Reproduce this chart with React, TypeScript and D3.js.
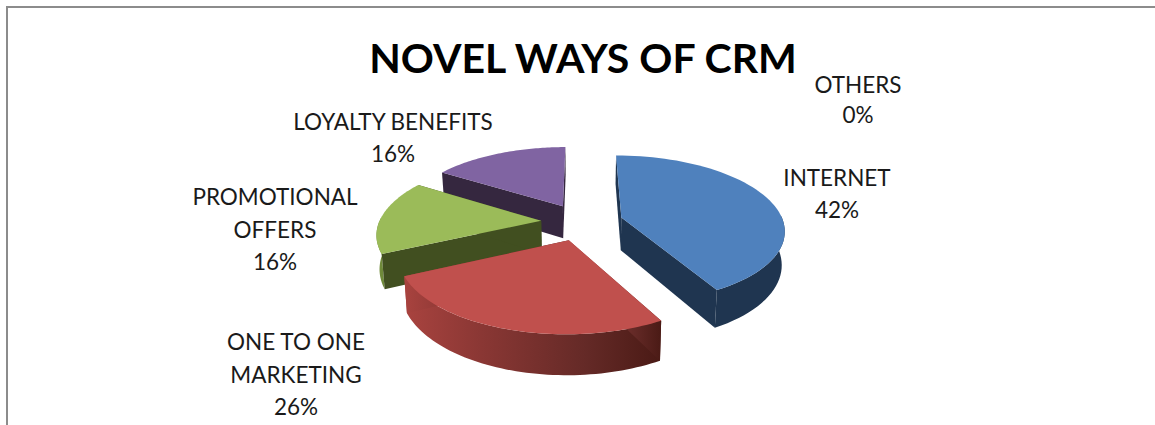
import React from "react";
import * as d3 from "d3";

// Share of each CRM channel, in percent
const categories = ["INTERNET", "ONE TO ONE MARKETING", "PROMOTIONAL OFFERS", "LOYALTY BENEFITS", "OTHERS"];
const shares = [42, 26, 16, 16, 0];
const percentLabels = ["42%", "26%", "16%", "16%", "0%"];
const topColors = ["#4F81BD", "#C0504D", "#9BBB59", "#8064A2", "#4BACC6"];
const sideColors = ["#1F3550", "url(#redSide)", "#414F20", "#35273F", "#1F4650"];
const rimColors = ["#1F3550", "url(#redSide)", "#6F8A3A", "#35273F", "#1F4650"];

// Label text, split over lines, with its anchor
const labelLines = [
  { lines: ["INTERNET", "42%"], x: 837, y: 186, dy: 32 },
  { lines: ["ONE TO ONE", "MARKETING", "26%"], x: 296, y: 350, dy: 32.5 },
  { lines: ["PROMOTIONAL", "OFFERS", "16%"], x: 275, y: 205, dy: 32.5 },
  { lines: ["LOYALTY BENEFITS", "16%"], x: 393, y: 130, dy: 32 },
  { lines: ["OTHERS", "0%"], x: 858, y: 93, dy: 30 },
];

const W = 1155;
const H = 425;
const cx = 582;
const cy = 222;
const rx = 162;
const ry = 73;
const depth = 33;
const explode = 41;
const perspective = 0.156;

type P = [number, number];

// Projects a disc point (u right, v toward the viewer, in radius units) onto the page.
// level 0 is the upper face of the pie and level 1 the lower one.
function project(u: number, v: number, level: number): P {
  const k = 1 / (1 - perspective * v);
  const shrink = 1 - 0.015 * level;
  return [cx + rx * u * k * shrink, cy + ry * v * k + level * depth * k];
}

const line = d3.line<P>();
const pie = d3.pie<number>().sort(null).value((d) => d);

export default function App() {
  const arcs = pie(shares);

  // Painted back to front: loyalty, promotional, internet, one to one
  const order = [3, 2, 0, 1];

  const slices = order.map((i) => {
    const a = arcs[i];
    const mid = (a.startAngle + a.endAngle) / 2;
    const ox = (explode / rx) * Math.sin(mid);
    const oy = (-explode / rx) * Math.cos(mid);
    const pt = (t: number, r: number, level: number) =>
      project(ox + r * Math.sin(t), oy - r * Math.cos(t), level);
    const angle = d3.scaleLinear().domain([0, 60]).range([a.startAngle, a.endAngle]);
    const steps = d3.range(0, 61).map((s) => angle(s));

    const top = line([pt(0, 0, 0), ...steps.map((t) => pt(t, 1, 0))]) + "Z";
    const faceA = line([pt(0, 0, 0), pt(a.startAngle, 1, 0), pt(a.startAngle, 1, 1), pt(0, 0, 1)]) + "Z";
    const faceB = line([pt(0, 0, 0), pt(a.endAngle, 1, 0), pt(a.endAngle, 1, 1), pt(0, 0, 1)]) + "Z";
    const front = steps.filter((t) => Math.cos(t) < 0.05);
    const rim = front.length
      ? line([...front.map((t) => pt(t, 1, 0)), ...[...front].reverse().map((t) => pt(t, 1, 1))]) + "Z"
      : null;
    return { i, top, faceA, faceB, rim };
  });

  return (
    <svg
      width={W}
      height={H}
      viewBox={`0 0 ${W} ${H}`}
      style={{ position: "absolute", left: 0, top: 0, background: "#fff" }}
    >
      <defs>
        <linearGradient id="redSide" x1="0" x2="1" y1="0" y2="0">
          <stop offset="0" stopColor="#A9433F" />
          <stop offset="0.3" stopColor="#8A3734" />
          <stop offset="0.7" stopColor="#652A27" />
          <stop offset="1" stopColor="#4A1A15" />
        </linearGradient>
      </defs>

      <path d={`M7 ${H}V7H${W}`} fill="none" stroke="#8C8C8C" strokeWidth={2} />

      <text
        x={583}
        y={73}
        textAnchor="middle"
        fontFamily="Lato, 'Open Sans', sans-serif"
        fontWeight={700}
        fontSize={41}
        fill="#000"
      >
        NOVEL WAYS OF CRM
      </text>

      {slices.map((s) => (
        <g key={categories[s.i]}>
          {s.rim && <path d={s.rim} fill={rimColors[s.i]} />}
          <path d={s.faceA} fill={sideColors[s.i]} />
          <path d={s.faceB} fill={sideColors[s.i]} />
          <path d={s.top} fill={topColors[s.i]} />
        </g>
      ))}

      {labelLines.map((l, i) => (
        <text
          key={categories[i]}
          textAnchor="middle"
          fontFamily="Lato, 'Open Sans', sans-serif"
          fontSize={22.5}
          fill="#1a1a1a"
        >
          {l.lines.map((t, j) => (
            <tspan key={j} x={l.x} y={l.y + j * l.dy}>
              {j === l.lines.length - 1 ? percentLabels[i] : t}
            </tspan>
          ))}
        </text>
      ))}
    </svg>
  );
}
